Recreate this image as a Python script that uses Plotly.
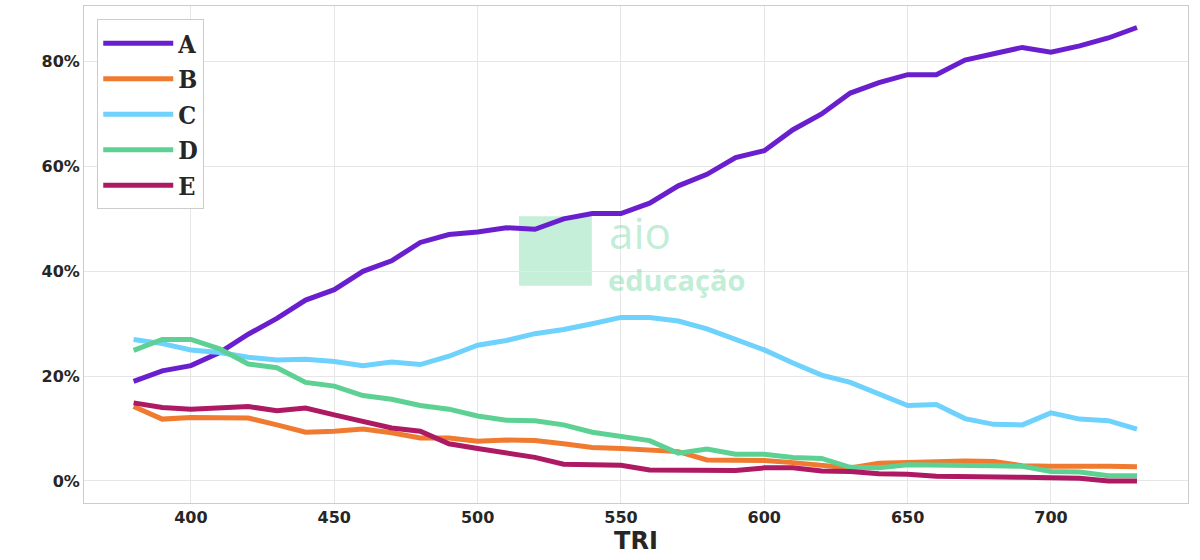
import plotly.graph_objects as go

tri = list(range(380, 731, 10))

a = [19, 21, 22, 24.5, 28, 31, 34.5, 36.5, 40, 42, 45.5, 47, 47.5, 48.3, 48, 50, 51, 51,
     53, 56.3, 58.5, 61.7, 63, 67, 70, 74, 76, 77.5, 77.5, 80.3, 81.5, 82.7, 81.8, 83, 84.5, 86.5]
b = [14.2, 11.8, 12.1, 12.1, 12.0, 10.7, 9.3, 9.5, 9.9, 9.2, 8.2, 8.2, 7.6, 7.8, 7.7, 7.1, 6.4, 6.2,
     5.9, 5.6, 4.0, 4.0, 3.9, 3.5, 3.0, 2.5, 3.4, 3.6, 3.7, 3.8, 3.7, 2.9, 2.8, 2.9, 2.8, 2.7]
c = [27, 26.2, 25, 24.5, 23.6, 23.1, 23.2, 22.8, 22, 22.7, 22.2, 23.8, 25.9, 26.8, 28.1, 28.9, 30, 31.2,
     31.2, 30.5, 29, 27, 25, 22.5, 20.2, 18.8, 16.7, 14.4, 14.6, 11.9, 10.8, 10.7, 13, 11.8, 11.5, 9.9]
d = [24.9, 27, 27, 25.2, 22.3, 21.6, 18.8, 18.1, 16.3, 15.6, 14.4, 13.7, 12.4, 11.6, 11.5, 10.7, 9.3, 8.5,
     7.7, 5.3, 6.1, 5.1, 5.1, 4.5, 4.3, 2.6, 2.5, 3.1, 3.1, 3.0, 2.9, 2.8, 1.8, 1.7, 1.0, 1.0]
e = [14.9, 14.0, 13.7, 13.9, 14.2, 13.4, 13.9, 12.6, 11.3, 10.1, 9.5, 7.1, 6.2, 5.3, 4.5, 3.2, 3.0, 3.0,
     2.1, 2.1, 2.1, 2.0, 2.5, 2.5, 1.9, 1.8, 1.4, 1.3, 0.9, 0.9, 0.8, 0.7, 0.6, 0.5, 0.0, 0.0]

series = [("A", a, "#6a1fcf"), ("B", b, "#f07b30"), ("C", c, "#6ed2fc"),
          ("D", d, "#5dd193"), ("E", e, "#ad1a63")]

fig = go.Figure()
for name, vals, col in series:
    fig.add_trace(go.Scatter(x=tri, y=[v / 100 for v in vals], name=name, mode="lines",
                             line=dict(color=col, width=5)))

# watermark
wm = "rgba(93,209,147,0.4)"
fig.add_shape(type="rect", xref="paper", yref="paper", x0=0.394, x1=0.46, y0=0.437, y1=0.577,
              fillcolor="rgba(93,209,147,0.35)", line_width=0, layer="below")
fig.add_annotation(x=0.504, y=0.545, xref="paper", yref="paper", text="aio", showarrow=False,
                   font=dict(family="Open Sans", size=44, color=wm))
fig.add_annotation(x=0.537, y=0.45, xref="paper", yref="paper", text="<b>educação</b>", showarrow=False,
                   font=dict(family="Open Sans", size=29, color=wm))

fig.update_layout(
    width=1200, height=560, plot_bgcolor="white", paper_bgcolor="white",
    margin=dict(l=84, r=12, t=6, b=57, autoexpand=False),
    font=dict(family="DejaVu Sans", size=16, color="#262626"),
    legend=dict(x=0.012, y=0.973, bordercolor="#cccccc", borderwidth=1, bgcolor="white",
                itemwidth=70, tracegroupgap=13,
                font=dict(family="DejaVu Serif Condensed", size=25, color="#262626", weight="bold")),
    xaxis=dict(title=dict(text="TRI", font=dict(size=24, weight="bold"), standoff=2), range=[362.7, 747.8],
               tickvals=[400, 450, 500, 550, 600, 650, 700], tickfont=dict(size=16, weight="bold"),
               showgrid=True, gridcolor="#e6e6e6", showline=True, linecolor="#cccccc", mirror=True,
               zeroline=False, automargin=False),
    yaxis=dict(range=[-0.042, 0.906], tickformat=".0%", tickvals=[0, 0.2, 0.4, 0.6, 0.8],
               tickfont=dict(size=16, weight="bold"), ticksuffix="  ",
               showgrid=True, gridcolor="#e6e6e6", showline=True, linecolor="#cccccc", mirror=True,
               zeroline=False, automargin=False),
)
fig.write_html("out.html", config={"displayModeBar": False},
               post_script="document.body.style.margin='0';")
